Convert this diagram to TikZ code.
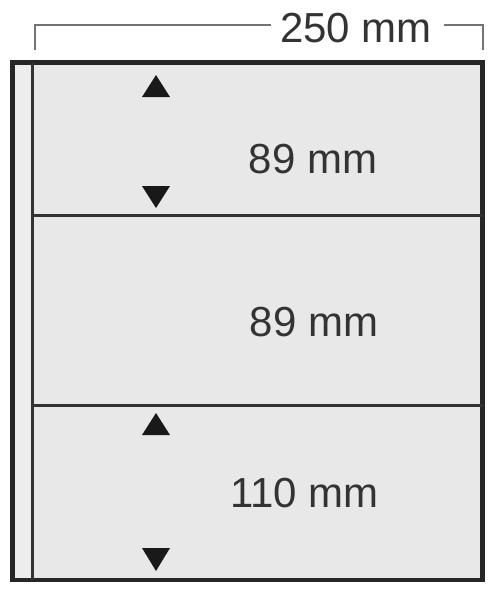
\documentclass[tikz,border=0pt]{standalone}
\usepackage{fontspec}
\setmainfont{Liberation Sans}
\begin{document}
\begin{tikzpicture}[x=1pt,y=-1pt,
  frame/.style={draw=black!85,line width=4.5pt,fill=black!9},
  divider/.style={draw=black!80,line width=3pt},
  dimline/.style={draw=black!55,line width=2pt},
  lbl/.style={text=black!80,font=\fontsize{42}{42}\selectfont,inner sep=0pt},
  uptri/.style={fill=black!90,draw=none},
]
\useasboundingbox (0,0) rectangle (500,600);
\fill[white] (0,0) rectangle (500,600);
% outer frame
\draw[frame] (12.5,62.5) rectangle (482.5,580);
\fill[black!7] (15,65) rectangle (31,578);
\draw[divider] (32.5,62.5) -- (32.5,580);
\draw[divider] (32.5,215) -- (482.5,215);
\draw[divider] (32.5,405.5) -- (482.5,405.5);
% dimension bracket
\node[lbl] (w) at (356,28) {250 mm};
\coordinate (wl) at (35,50);
\coordinate (wr) at (483,50);
\draw[dimline] (wl) |- ([xshift=-9pt]w.west |- 0,25);
\draw[dimline] ([xshift=12pt]w.east |- 0,25) -| (wr);
% labels
\node[lbl] (a) at (313,159) {89 mm};
\node[lbl] (b) at (314,322) {89 mm};
\node[lbl] (c) at (304.5,493) {110 mm};
% triangles
\fill[uptri] (156,75) -- (170,97) -- (142,97) -- cycle;
\fill[uptri] (142,186) -- (170,186) -- (156,208) -- cycle;
\fill[uptri] (156,413) -- (170,435) -- (142,435) -- cycle;
\fill[uptri] (142,548) -- (170,548) -- (156,571) -- cycle;
\end{tikzpicture}
\end{document}
